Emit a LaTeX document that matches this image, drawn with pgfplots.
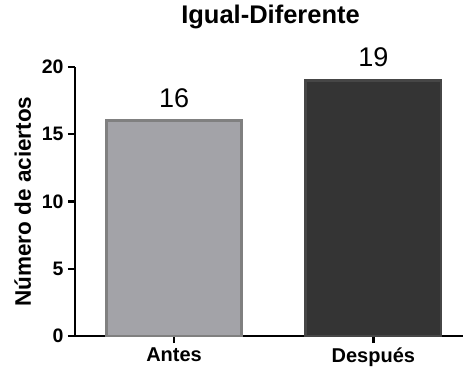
\documentclass[border=0pt]{standalone}
\usepackage{pgfplots}
\pgfplotsset{compat=1.18}
\usepackage{fontspec}
\setmainfont{Liberation Sans}
\definecolor{antesfill}{RGB}{163,163,168}
\definecolor{antesedge}{RGB}{128,128,128}
\definecolor{despfill}{RGB}{52,52,52}
\definecolor{despedge}{RGB}{70,70,70}
\begin{document}
\begin{tikzpicture}[x=1bp,y=1bp]
\begin{axis}[
  at={(0bp,0bp)}, anchor=south west,
  scale only axis,
  width=388bp, height=269bp,
  xmin=-0.497, xmax=1.45,
  ymin=0, ymax=20,
  axis x line*=bottom, axis y line*=left,
  axis line style={line width=2.6bp, black, -},
  xtick={0,1}, xticklabels={Antes,Después},
  ytick={0,5,10,15,20},
  tick style={line width=2.4bp, black},
  tick align=outside,
  major tick length=7bp,
  x tick label style={font=\fontsize{20bp}{22bp}\selectfont\bfseries, yshift=-1bp},
  y tick label style={font=\fontsize{19.5bp}{22bp}\selectfont\bfseries, xshift=-1bp},
  /pgf/number format/assume math mode=true,
  ylabel={Número de aciertos},
  ylabel style={font=\fontsize{22.5bp}{24bp}\selectfont\bfseries, at={(axis description cs:-0.135,0.5)}, anchor=center},
  title={Igual-Diferente},
  title style={font=\fontsize{25.5bp}{27bp}\selectfont\bfseries, at={(axis description cs:0.504,1)}, anchor=south, yshift=29bp},
  ybar, bar width=0.68, bar shift=0pt,
  clip=false,
]
\addplot[fill=antesfill, draw=antesedge, line width=2.6bp] coordinates {(0,16)};
\addplot[fill=despfill, draw=despedge, line width=2.6bp] coordinates {(1,19)};
\addplot[draw=none, fill=none, nodes near coords, point meta=explicit symbolic,
  every node near coord/.append style={font=\fontsize{27bp}{29bp}\selectfont, anchor=south, yshift=10bp}]
  coordinates {(0,16) [16] (1,19) [19]};
\end{axis}
\pgfresetboundingbox
\path[use as bounding box] (-75bp,-31bp) rectangle (388bp,336bp);
\end{tikzpicture}
\end{document}
